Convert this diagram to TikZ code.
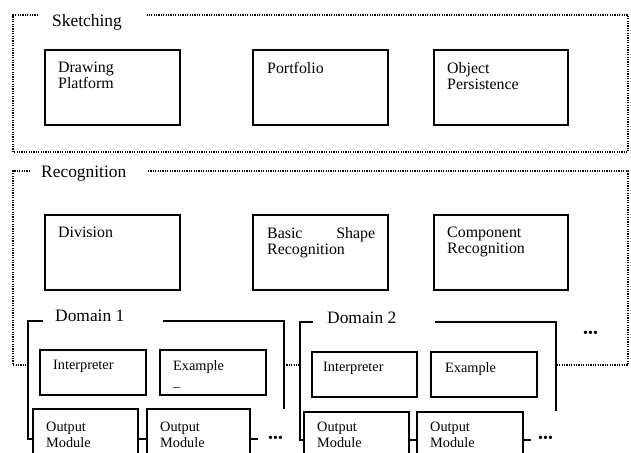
\documentclass[tikz,border=0pt]{standalone}
\usepackage{fontspec}
\setmainfont{Liberation Serif}
\begin{document}
\begin{tikzpicture}[x=1pt,y=-1pt,
  box/.style={draw=black, line width=1.9pt, rectangle, inner sep=0pt, outer sep=0pt, anchor=north west},
  frame/.style={line width=1.9pt},
  dotline/.style={line width=1.4pt, dash pattern=on 1.2pt off 1.2pt},
  title/.style={anchor=base west, inner sep=0pt, font=\fontsize{17.4}{20}\selectfont},
  btext/.style={anchor=north west, inner sep=0pt, align=left, font=\fontsize{15.9}{15.8}\selectfont},
  dtext/.style={anchor=north west, inner sep=0pt, align=left, font=\fontsize{14.3}{16.2}\selectfont},
  dots/.style={anchor=base west, inner sep=0pt, font=\fontsize{14}{14}\selectfont}]
\useasboundingbox (0,0) rectangle (631,452);
\begin{scope}
\clip (0,0) rectangle (631,452);
% Sketching
\node[title] (sk) at (52,27) {Sketching};
\draw[dotline] (38,15) -- (13,15) -- (13,152) -- (628,152) -- (628,15) -- (147,15);
\node[box, minimum width=135pt, minimum height=75pt] (dp) at (45,50) {};
\node[box, minimum width=135pt, minimum height=75pt] (pf) at (253,50) {};
\node[box, minimum width=134pt, minimum height=75pt] (op) at (434,50) {};
\node[btext] (dpt) at (58,62) {Drawing\\Platform};
\node[btext] (pft) at (267,62) {Portfolio};
\node[btext] (opt) at (447,62) {Object\\Persistence};
% Recognition
\node[title] (rc) at (41,177) {Recognition};
\draw[dotline] (30,171) -- (13,171) -- (13,365) -- (28,365);
\draw[dotline] (148,171) -- (628,171) -- (628,365) -- (556,365);
\draw[dotline] (284,365) -- (300,365);
\node[box, minimum width=135pt, minimum height=75pt] (dv) at (45,215) {};
\node[box, minimum width=135pt, minimum height=75pt] (bs) at (253,215) {};
\node[box, minimum width=134pt, minimum height=75pt] (cr) at (434,215) {};
\node[btext] (dvt) at (58,227) {Division};
\node[btext, text width=108pt] (bst) at (267,227) {Basic\hfill Shape\\Recognition};
\node[btext] (crt) at (447,227) {Component\\Recognition};
% Domain 1
\node[title] (d1) at (55,321) {Domain 1};
\node[box, minimum width=106pt, minimum height=45pt] (in1) at (40,350) {};
\node[box, minimum width=106pt, minimum height=45pt] (ex1) at (160,350) {};
\node[dtext] (in1t) at (53,360) {Interpreter};
\node[dtext] (ex1t) at (173,360) {Example\\\_};
\node[box, minimum width=105pt, minimum height=60pt] (om1a) at (33,409) {};
\node[box, minimum width=103pt, minimum height=60pt] (om1b) at (147,409) {};
\node[dtext] (om1at) at (46,421.5) {Output\\Module};
\node[dtext] (om1bt) at (160,421.5) {Output\\Module};
\coordinate (e1) at (258,439);
\node[dots] (dt1) at (268,442) {•••};
\draw[frame] (43,321) -- (28,321) -- (28,439) -- (om1a.west);
\draw[frame] (163,321) -- (284,321) -- (284,409);
\draw[frame] (om1a.east) -- (om1b.west);
\draw[frame] (om1b.east) -- (e1);
% Domain 2
\node[title] (d2) at (327,323) {Domain 2};
\node[box, minimum width=105pt, minimum height=45pt] (in2) at (312,352) {};
\node[box, minimum width=106pt, minimum height=45pt] (ex2) at (431,352) {};
\node[dtext] (in2t) at (323,362) {Interpreter};
\node[dtext] (ex2t) at (445,362) {Example};
\node[box, minimum width=105pt, minimum height=56pt] (om2a) at (304,412) {};
\node[box, minimum width=106pt, minimum height=56pt] (om2b) at (417,412) {};
\node[dtext] (om2at) at (317,422) {Output\\Module};
\node[dtext] (om2bt) at (430,422) {Output\\Module};
\coordinate (e2) at (531,440);
\node[dots] (dt2) at (538,442) {•••};
\draw[frame] (313,322) -- (300,322) -- (300,440) -- (om2a.west);
\draw[frame] (435,322) -- (556,322) -- (556,411);
\draw[frame] (om2a.east) -- (om2b.west);
\draw[frame] (om2b.east) -- (e2);
\node[dots] (dt3) at (583,337) {•••};
\end{scope}
\end{tikzpicture}
\end{document}
